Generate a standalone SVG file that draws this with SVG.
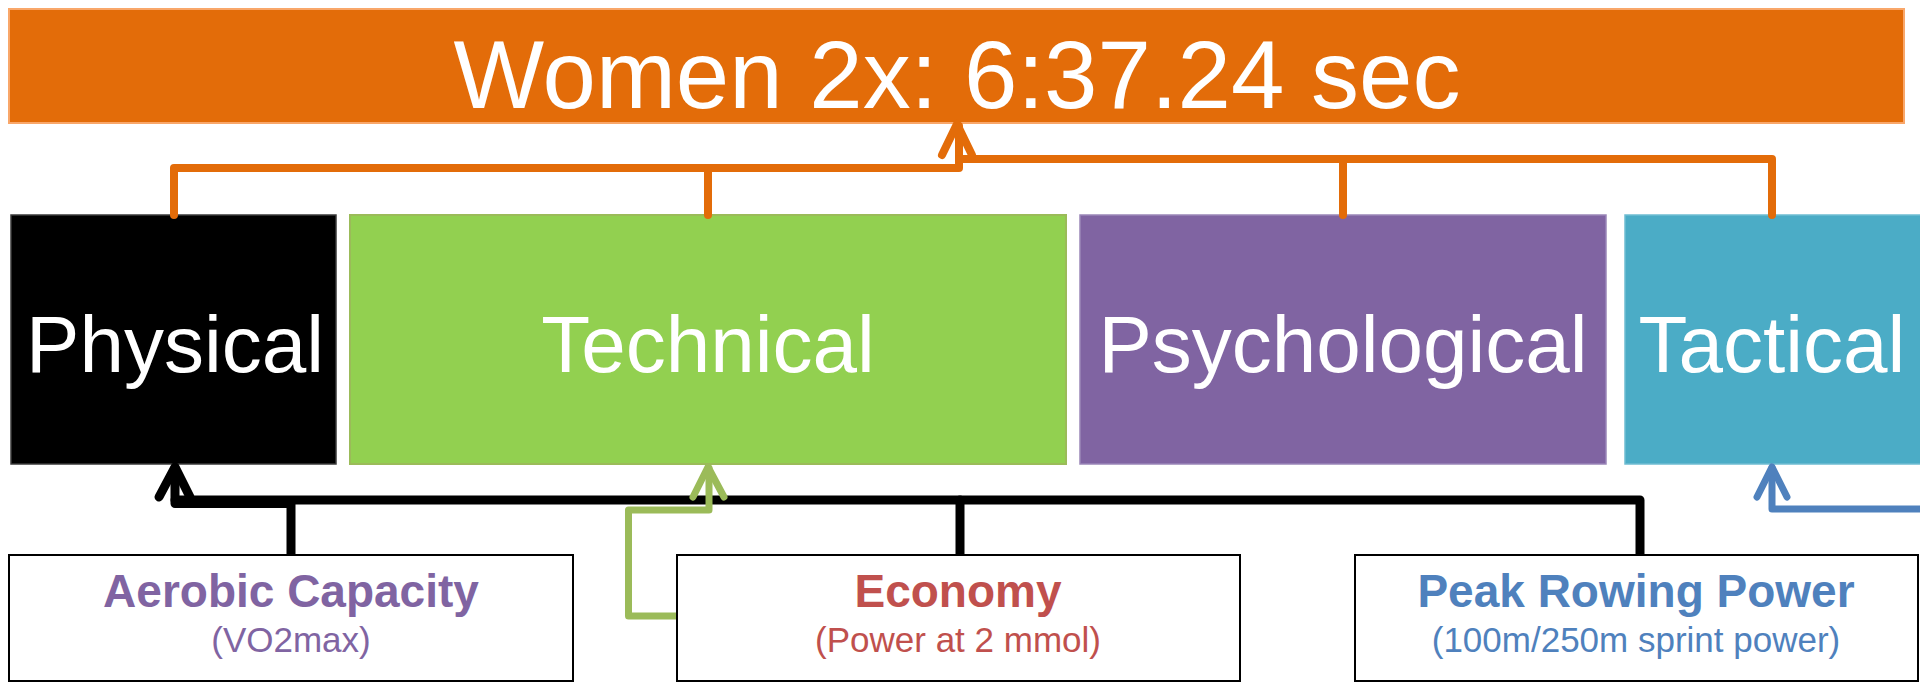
<svg xmlns="http://www.w3.org/2000/svg" width="1920" height="682" viewBox="0 0 1920 682">
  <style>
    .title { font-family: "Liberation Sans", Arial, sans-serif; font-size: 96px; fill: #ffffff; text-anchor: middle; }
    .cat { font-family: "Liberation Sans", Arial, sans-serif; font-size: 80px; fill: #ffffff; text-anchor: middle; }
    .fhead { font-family: "Liberation Sans", Arial, sans-serif; font-size: 46px; font-weight: bold; text-anchor: middle; }
    .fsub { font-family: "Liberation Sans", Arial, sans-serif; font-size: 35px; text-anchor: middle; }
    .factor { fill: #ffffff; stroke: #000000; stroke-width: 2; }
    .link { fill: none; stroke-linejoin: round; stroke-linecap: round; }
    .orange { stroke: #E36C09; stroke-width: 8; }
    .black { stroke: #000000; stroke-width: 9; }
    .green { stroke: #9BBB59; stroke-width: 7; }
    .blue { stroke: #4F81BD; stroke-width: 7; }
  </style>

  <rect width="1920" height="682" fill="#ffffff"/>

  <!-- result banner -->
  <g id="result">
    <rect x="9" y="9" width="1895" height="114" fill="#E36C09" stroke="#F9A76A" stroke-width="2"/>
    <text class="title" x="957" y="108">Women 2x: 6:37.24 sec</text>
  </g>

  <!-- performance categories -->
  <g id="physical">
    <rect x="11" y="215" width="325" height="249" fill="#000000" stroke="#3a3a3a" stroke-width="1.5"/>
    <text class="cat" x="175" y="372">Physical</text>
  </g>
  <g id="technical">
    <rect x="350" y="215" width="716" height="249" fill="#92D050" stroke="#9BBB59" stroke-width="2"/>
    <text class="cat" x="708" y="372">Technical</text>
  </g>
  <g id="psychological">
    <rect x="1080" y="215" width="526" height="249" fill="#8064A2" stroke="#9A86B8" stroke-width="1.5"/>
    <text class="cat" x="1343" y="372">Psychological</text>
  </g>
  <g id="tactical">
    <rect x="1625" y="215" width="300" height="249" fill="#4BACC6" stroke="#6FBDD2" stroke-width="1.5"/>
    <text class="cat" x="1772" y="372">Tactical</text>
  </g>

  <!-- connectors -->
  <g id="connectors">
    <!-- categories feeding the result -->
    <path class="link orange" d="M174,215 V168 H959 V126"/>
    <path class="link orange" d="M708,215 V168"/>
    <path class="link orange" d="M1772,215 V159 H959"/>
    <path class="link orange" d="M1343,215 V159"/>
    <path class="link orange" d="M942,155 L957,124 L972,155"/>

    <!-- physiological factors feeding Physical -->
    <path class="link black" d="M1640,555 V500 H175"/>
    <path class="link black" d="M960,555 V500"/>
    <path class="link black" d="M291,555 V503.5 H175 V468"/>
    <path class="link black" d="M159,497 L175,467 L190,497"/>

    <!-- Economy feeding Technical -->
    <path class="link green" d="M677,616 H628.5 V510 H709 V468"/>
    <path class="link green" d="M693,497 L708,467 L724,497"/>

    <!-- Tactical input -->
    <path class="link blue" d="M1925,509 H1772 V468"/>
    <path class="link blue" d="M1757,497 L1772,467 L1787,497"/>
  </g>

  <!-- physiological factors -->
  <g id="aerobic">
    <rect class="factor" x="9" y="555" width="564" height="126"/>
    <text class="fhead" x="291" y="607" fill="#8064A2">Aerobic Capacity</text>
    <text class="fsub" x="291" y="652" fill="#8064A2">(VO2max)</text>
  </g>
  <g id="economy">
    <rect class="factor" x="677" y="555" width="563" height="126"/>
    <text class="fhead" x="958" y="607" fill="#C0504D">Economy</text>
    <text class="fsub" x="958" y="652" fill="#C0504D">(Power at 2 mmol)</text>
  </g>
  <g id="peak">
    <rect class="factor" x="1355" y="555" width="563" height="126"/>
    <text class="fhead" x="1636" y="607" fill="#4F81BD">Peak Rowing Power</text>
    <text class="fsub" x="1636" y="652" fill="#4F81BD">(100m/250m sprint power)</text>
  </g>
</svg>
